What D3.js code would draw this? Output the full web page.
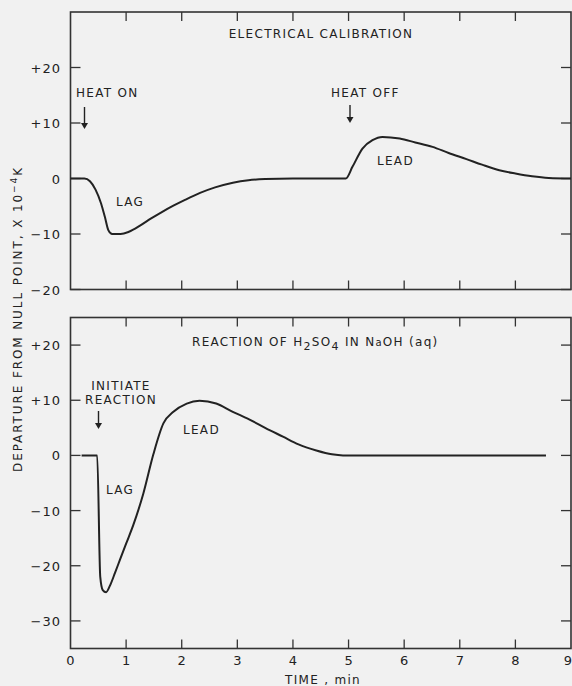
<!DOCTYPE html>
<html>
<head>
<meta charset="utf-8">
<script src="https://cdn.jsdelivr.net/npm/d3@7"></script>
<style>
  body { margin: 0; background: #f1f1f1; }
  svg { display: block; }
  text { font-family: "DejaVu Sans", sans-serif; fill: #222; }
</style>
</head>
<body>
<svg id="chart" width="572" height="686"></svg>
<script>
// electrical calibration trace (time in min, departure in 1e-4 K)
var calibTime = [0, 0.25, 0.35, 0.45, 0.55, 0.62, 0.68, 0.75, 0.9, 1.05, 1.25, 1.45, 1.65, 1.85, 2.05, 2.33, 2.6, 2.92, 3.2, 3.5, 4, 4.95, 5.07, 5.25, 5.43, 5.61, 5.92, 6.2, 6.51, 6.8, 7.12, 7.4, 7.71, 8.0, 8.3, 8.6, 9.0];
var calibValue = [0, 0, -0.5, -2, -4.5, -7, -9.3, -10, -10, -9.6, -8.5, -7.2, -6.0, -4.9, -3.9, -2.6, -1.6, -0.75, -0.3, -0.1, 0, 0, 2.1, 5.4, 6.9, 7.5, 7.2, 6.5, 5.7, 4.6, 3.5, 2.5, 1.5, 0.9, 0.4, 0.1, 0];

// reaction trace
var reactTime = [0.2, 0.48, 0.535, 0.58, 0.64, 0.71, 0.8, 0.89, 1.0, 1.13, 1.31, 1.49, 1.67, 1.85, 2.09, 2.32, 2.62, 2.9, 3.22, 3.5, 3.82, 4.1, 4.42, 4.7, 4.9, 5.2, 8.55];
var reactValue = [0, 0, -22, -24.4, -24.8, -23.6, -21.3, -18.9, -16, -12.6, -6.9, 0.2, 5.8, 7.9, 9.4, 9.9, 9.4, 8, 6.5, 5, 3.4, 2, 0.9, 0.2, 0, 0, 0];

var xTicks = [0, 1, 2, 3, 4, 5, 6, 7, 8, 9];
var calibTicks = [20, 10, 0, -10, -20];
var reactTicks = [20, 10, 0, -10, -20, -30];

var svg = d3.select("#chart");
var left = 70.5, right = 571;

var x = d3.scaleLinear().domain([0, 9]).range([left, right]);

function fmt(d) {
	if (d > 0) return "+" + d;
	if (d < 0) return "\u2212" + Math.abs(d);
	return "0";
}

function panel(top, bottom, yDomain, yTicks, time, value) {
	var y = d3.scaleLinear().domain(yDomain).range([bottom, top]);
	var g = svg.append("g");

	g.append("rect")
		.attr("x", left).attr("y", top)
		.attr("width", right - left).attr("height", bottom - top)
		.attr("fill", "none").attr("stroke", "#333").attr("stroke-width", 1.6);

	// inward x ticks on top and bottom edge
	var inner = xTicks.slice(1, -1);
	g.selectAll(".xt").data(inner).enter().append("line")
		.attr("x1", x).attr("x2", x)
		.attr("y1", top).attr("y2", top + 9)
		.attr("stroke", "#333").attr("stroke-width", 1.3);
	g.selectAll(".xb").data(inner).enter().append("line")
		.attr("x1", x).attr("x2", x)
		.attr("y1", bottom).attr("y2", bottom - 9)
		.attr("stroke", "#333").attr("stroke-width", 1.3);

	// inward y ticks left and right
	g.selectAll(".yl").data(yTicks).enter().append("line")
		.attr("x1", left).attr("x2", left + 10)
		.attr("y1", y).attr("y2", y)
		.attr("stroke", "#333").attr("stroke-width", 1.3);
	g.selectAll(".yr").data(yTicks).enter().append("line")
		.attr("x1", right).attr("x2", right - 10)
		.attr("y1", y).attr("y2", y)
		.attr("stroke", "#333").attr("stroke-width", 1.3);

	g.selectAll(".yt").data(yTicks).enter().append("text")
		.attr("x", 61).attr("y", function(d){ return y(d) + 5; })
		.attr("text-anchor", "end")
		.style("font-size", "13px")
		.style("letter-spacing", "1px")
		.text(fmt);

	var line = d3.line()
		.x(function(d){ return x(d[0]); })
		.y(function(d){ return y(d[1]); })
		.curve(d3.curveMonotoneX);

	g.append("path")
		.datum(d3.zip(time, value))
		.attr("d", line)
		.attr("fill", "none")
		.attr("stroke", "#222")
		.attr("stroke-width", 2);

	return {g: g, y: y};
}

var p1 = panel(12, 289.5, [-20, 30], calibTicks, calibTime, calibValue);
var p2 = panel(317.5, 648.5, [-35, 25], reactTicks, reactTime, reactValue);

function label(txt, px, py, size, anchor) {
	return svg.append("text")
		.attr("x", px).attr("y", py)
		.attr("text-anchor", anchor || "start")
		.style("font-size", (size || 12) + "px")
		.style("letter-spacing", "1.3px")
		.text(txt);
}

function arrow(px, y1, y2) {
	svg.append("line")
		.attr("x1", px).attr("x2", px).attr("y1", y1).attr("y2", y2 - 4)
		.attr("stroke", "#222").attr("stroke-width", 1.4);
	svg.append("path")
		.attr("d", "M" + (px - 3.5) + "," + (y2 - 6) + "L" + (px + 3.5) + "," + (y2 - 6) + "L" + px + "," + y2 + "Z")
		.attr("fill", "#222");
}

// top panel annotations
label("ELECTRICAL  CALIBRATION", 321, 38, 12, "middle");
label("HEAT ON", 76, 97, 12);
arrow(84.5, 107, 129);
label("HEAT OFF", 331, 97, 12);
label("LAG", 116, 206, 12);
label("LEAD", 377, 165, 12);
arrow(350, 105, 123);

// bottom panel annotations
var t = svg.append("text").attr("x", 192).attr("y", 346)
	.style("font-size", "12px").style("letter-spacing", "1.3px");
t.append("tspan").text("REACTION  OF  H");
t.append("tspan").attr("dy", 4).style("font-size", "11px").text("2");
t.append("tspan").attr("dy", -4).text("SO");
t.append("tspan").attr("dy", 4).style("font-size", "11px").text("4");
t.append("tspan").attr("dy", -4).text("  IN  N");
t.append("tspan").style("font-size", "10px").text("a");
t.append("tspan").text("OH (aq)");

label("INITIATE", 121, 390, 12, "middle");
label("REACTION", 121, 404, 12, "middle");
arrow(98.5, 411, 429);
label("LAG", 106, 494, 12);
label("LEAD", 183, 434, 12);

// x tick labels under bottom panel (last one kept inside the page)
svg.selectAll(".xl").data(xTicks).enter().append("text")
	.attr("x", function(d){ return d === 9 ? 572 : x(d); })
	.attr("y", 665)
	.attr("text-anchor", function(d){ return d === 9 ? "end" : "middle"; })
	.style("font-size", "13px")
	.text(function(d){ return d; });

label("TIME , min", 323, 684, 12, "middle");

// y axis title
var yt = svg.append("text")
	.attr("transform", "translate(22,319) rotate(-90)")
	.attr("text-anchor", "middle")
	.style("font-size", "12px")
	.style("letter-spacing", "1.9px");
yt.append("tspan").text("DEPARTURE  FROM  NULL  POINT,  X 10");
yt.append("tspan").attr("dy", -5).style("font-size", "9px").text("\u22124");
yt.append("tspan").attr("dy", 5).text("K");
</script>
</body>
</html>
